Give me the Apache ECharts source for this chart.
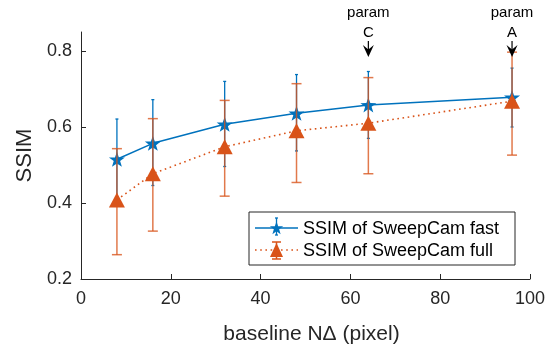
<!DOCTYPE html>
<html>
<head>
<meta charset="utf-8">
<script src="https://cdn.jsdelivr.net/npm/echarts@6/dist/echarts.min.js"></script>
<style>
html, body { margin: 0; padding: 0; background: #fff; }
#chart { width: 554px; height: 345px; }
</style>
</head>
<body>
<div id="chart"></div>
<script>
/** SSIM vs baseline */

const baselines = [8, 16, 32, 48, 64, 96]
const fastMean = [0.515, 0.557, 0.607, 0.636, 0.658, 0.678]
const fastLow = [0.409, 0.446, 0.496, 0.537, 0.570, 0.600]
const fastHigh = [0.621, 0.672, 0.720, 0.738, 0.746, 0.755]
const fullMean = [0.408, 0.477, 0.548, 0.590, 0.610, 0.668]
const fullLow = [0.264, 0.326, 0.418, 0.454, 0.477, 0.526]
const fullHigh = [0.543, 0.622, 0.670, 0.714, 0.730, 0.797]
const yTicks = [0.2, 0.4, 0.6, 0.8]
// annotation arrows: x, arrow tip (y), letter
const annotations = [[64, 0.784, 'C'], [96, 0.784, 'A']]

const BLUE = '#0072BD'
const ORANGE = '#D95319'
const FONT = '"Liberation Sans", Arial, Helvetica, sans-serif'
const STAR = 'path://M0,-10L2.35,-3.24L9.51,-3.09L3.8,1.24L5.88,8.09L0,4L-5.88,8.09L-3.8,1.24L-9.51,-3.09L-2.35,-3.24Z'

function zip(...cols) {
    return cols[0].map((_, i) => cols.map(c => c[i]))
}

/** 五角星顶点（图例用） */
function starPoints(cx, cy, r) {
    let pts = []
    for (let i = 0; i < 10; i++) {
        let a = -Math.PI / 2 + i * Math.PI / 5
        let rr = i % 2 ? r * 0.4 : r
        pts.push([cx + rr * Math.cos(a), cy + rr * Math.sin(a)])
    }
    return pts
}

/** 误差棒 */
function errRender(capHalf, color, width) {
    return function (params, api) {
        let x = api.value(0)
        let lo = api.coord([x, api.value(1)])
        let hi = api.coord([x, api.value(2)])
        let st = () => ({ stroke: color, lineWidth: width })
        return {
            type: 'group',
            children: [
                { type: 'line', shape: { x1: lo[0], y1: lo[1], x2: hi[0], y2: hi[1] }, style: st() },
                { type: 'line', shape: { x1: lo[0] - capHalf, y1: lo[1], x2: lo[0] + capHalf, y2: lo[1] }, style: st() },
                { type: 'line', shape: { x1: hi[0] - capHalf, y1: hi[1], x2: hi[0] + capHalf, y2: hi[1] }, style: st() }
            ]
        }
    }
}

function annRender(params, api) {
    let p = api.coord([api.value(0), api.value(1)])
    let x = p[0], y = p[1]
    return {
        type: 'group',
        children: [
            { type: 'text', style: { text: 'param', x: x, y: y - 44, align: 'center', verticalAlign: 'middle', fontSize: 15, fontFamily: FONT, fill: '#000' } },
            { type: 'text', style: { text: api.value(2), x: x, y: y - 24, align: 'center', verticalAlign: 'middle', fontSize: 15, fontFamily: FONT, fill: '#000' } },
            { type: 'line', shape: { x1: x, y1: y - 16, x2: x, y2: y - 4 }, style: { stroke: '#000', lineWidth: 1.2 } },
            { type: 'polygon', shape: { points: [[x, y], [x - 5.5, y - 12], [x, y - 7.5], [x + 5.5, y - 12]] }, style: { fill: '#000' } }
        ]
    }
}

let chart = echarts.init(document.getElementById('chart'))

let legendX = 249, legendY = 212
let option = {
    animation: false,
    grid: { left: 81, right: 24, top: 32, bottom: 66, containLabel: false, outerBoundsMode: 'none' },
    xAxis: {
        type: 'value', min: 0, max: 100, interval: 20,
        name: 'baseline NΔ (pixel)', nameLocation: 'middle', nameGap: 45,
        nameTextStyle: { fontSize: 21, color: '#262626', fontFamily: FONT, padding: [0, 0, 0, 12] },
        axisLine: { show: true, onZero: false, lineStyle: { color: '#262626', width: 1 } },
        axisTick: { inside: true, length: 5, lineStyle: { color: '#262626' } },
        axisLabel: { fontSize: 18, color: '#262626', fontFamily: FONT, margin: 11 },
        splitLine: { show: false }
    },
    yAxis: {
        type: 'value', min: 0.2, max: 0.85, interval: 0.2,
        name: 'SSIM', nameLocation: 'middle', nameGap: 38,
        nameTextStyle: { fontSize: 22, color: '#262626', fontFamily: FONT },
        axisLine: { show: true, onZero: false, lineStyle: { color: '#262626', width: 1 } },
        axisTick: { inside: true, length: 5, customValues: yTicks, lineStyle: { color: '#262626' } },
        axisLabel: { fontSize: 18, color: '#262626', fontFamily: FONT, margin: 9, customValues: yTicks,
            formatter: v => v.toFixed(1) },
        splitLine: { show: false }
    },
    series: [
        {
            name: 'SSIM of SweepCam fast', type: 'line', z: 2,
            data: zip(baselines, fastMean),
            lineStyle: { color: BLUE, width: 1.5 },
            itemStyle: { color: BLUE },
            symbol: STAR, symbolSize: [16, 15], showSymbol: true
        },
        {
            type: 'custom', z: 3, clip: false,
            data: zip(baselines, fastLow, fastHigh),
            renderItem: errRender(1.5, BLUE, 1.3)
        },
        {
            name: 'SSIM of SweepCam full', type: 'line', z: 4,
            data: zip(baselines, fullMean),
            lineStyle: { color: ORANGE, width: 1.6, type: [1.6, 3.6] },
            itemStyle: { color: ORANGE },
            symbol: 'triangle', symbolSize: [16, 15], showSymbol: true
        },
        {
            type: 'custom', z: 5, clip: false,
            data: zip(baselines, fullLow, fullHigh),
            renderItem: errRender(5, 'rgba(217,83,25,0.78)', 1.5)
        },
        {
            type: 'custom', z: 6, clip: false,
            data: annotations,
            renderItem: annRender
        }
    ],
    graphic: [
        {
            type: 'group', x: legendX, y: legendY, z: 100,
            children: [
                { type: 'rect', shape: { x: 0, y: 0, width: 266, height: 53 }, style: { fill: '#fff', stroke: '#262626', lineWidth: 1 } },
                // fast
                { type: 'line', shape: { x1: 6, y1: 16, x2: 49, y2: 16 }, style: { stroke: BLUE, lineWidth: 1.5 } },
                { type: 'line', shape: { x1: 27.5, y1: 6, x2: 27.5, y2: 23 }, style: { stroke: BLUE, lineWidth: 1.3 } },
                { type: 'line', shape: { x1: 26, y1: 6, x2: 29, y2: 6 }, style: { stroke: BLUE, lineWidth: 1.3 } },
                { type: 'line', shape: { x1: 26, y1: 23, x2: 29, y2: 23 }, style: { stroke: BLUE, lineWidth: 1.3 } },
                { type: 'polygon', shape: { points: starPoints(27.5, 16.5, 7) }, style: { fill: BLUE } },
                { type: 'text', style: { text: 'SSIM of SweepCam fast', x: 54, y: 17, verticalAlign: 'middle', fontSize: 18, fontFamily: FONT, fill: '#000' } },
                // full
                { type: 'line', shape: { x1: 6, y1: 38, x2: 49, y2: 38 }, style: { stroke: ORANGE, lineWidth: 1.6, lineDash: [1.6, 3.6] } },
                { type: 'line', shape: { x1: 27.5, y1: 30, x2: 27.5, y2: 47 }, style: { stroke: ORANGE, lineWidth: 1.5 } },
                { type: 'line', shape: { x1: 23, y1: 30, x2: 32, y2: 30 }, style: { stroke: ORANGE, lineWidth: 1.5 } },
                { type: 'line', shape: { x1: 23, y1: 47, x2: 32, y2: 47 }, style: { stroke: ORANGE, lineWidth: 1.5 } },
                { type: 'polygon', shape: { points: [[27.5, 31], [34, 45], [21, 45]] }, style: { fill: ORANGE } },
                { type: 'text', style: { text: 'SSIM of SweepCam full', x: 54, y: 39, verticalAlign: 'middle', fontSize: 18, fontFamily: FONT, fill: '#000' } }
            ]
        }
    ]
}

chart.setOption(option)
</script>
</body>
</html>
